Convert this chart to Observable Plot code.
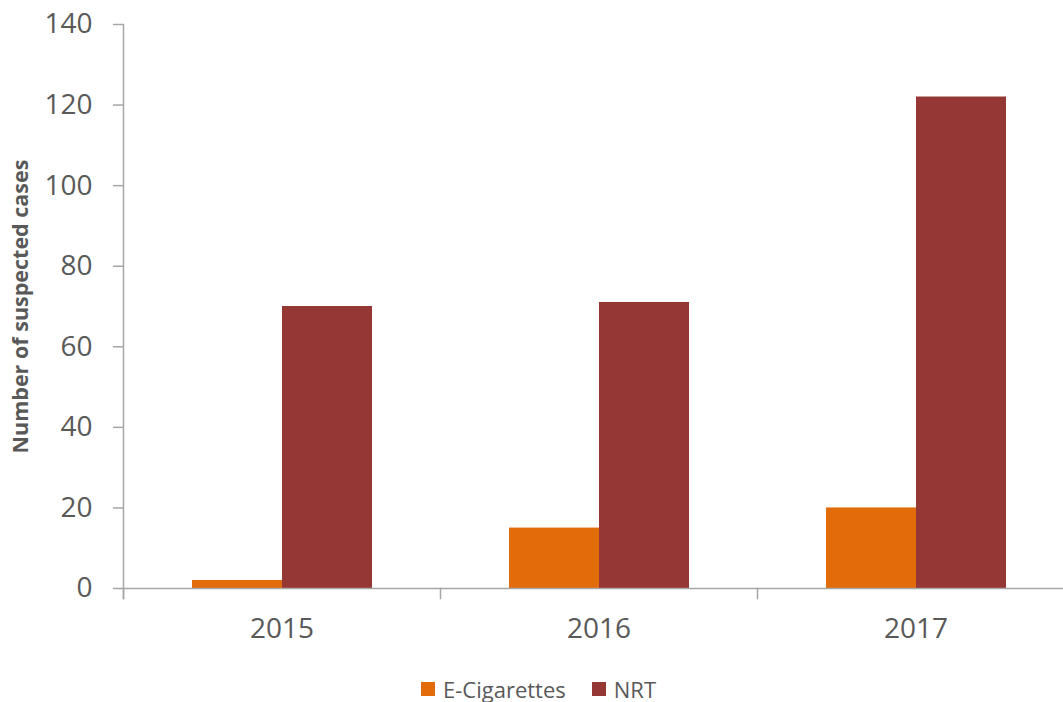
<!DOCTYPE html>
<html>
<head>
<meta charset="utf-8">
<script src="https://cdn.jsdelivr.net/npm/d3@7"></script>
<script src="https://cdn.jsdelivr.net/npm/@observablehq/plot@0.6"></script>
<style>
  html, body { margin: 0; padding: 0; background: #fff; overflow: hidden; }
  #wrap { position: relative; width: 1063px; height: 702px; font-family: "Open Sans", sans-serif; }
  #legend { position: absolute; left: 421px; top: 674px; display: flex; align-items: center; font-size: 22px; color: #595959; }
  .item { display: flex; align-items: center; margin-right: 26px; }
  .sw { width: 14px; height: 14px; margin-right: 8px; }
</style>
</head>
<body>
<div id="wrap"><div id="chart"></div><div id="legend"></div></div>
<script>
const years = ["2015", "2016", "2017"];
const seriesNames = ["E-Cigarettes", "NRT"];
const eCigValues = [2, 15, 20];
const nrtValues = [70, 71, 122];
const seriesColors = ["#E36C0A", "#953735"];
const yTicks = [0, 20, 40, 60, 80, 100, 120, 140];

const data = [];
years.forEach((yr, i) => {
  data.push({year: yr, series: seriesNames[0], value: eCigValues[i]});
  data.push({year: yr, series: seriesNames[1], value: nrtValues[i]});
});

const axisColor = "#a6a6a6";
const textColor = "#595959";

const chart = Plot.plot({
  width: 1063,
  height: 660,
  marginLeft: 123,
  marginRight: -11,
  marginTop: 24,
  marginBottom: 72,
  style: {fontFamily: "'Open Sans', sans-serif", background: "white", overflow: "hidden"},
  fx: {domain: years, padding: 0, label: null},
  x: {domain: seriesNames, paddingInner: 0, paddingOuter: 0.742, axis: null},
  y: {domain: [0, 140], label: null},
  color: {domain: seriesNames, range: seriesColors},
  marks: [
    Plot.barY(data, {fx: "year", x: "series", y: "value", fill: "series"}),
    Plot.ruleY([0], {stroke: axisColor, strokeWidth: 1.5}),
    Plot.frame({anchor: "left", stroke: axisColor, strokeWidth: 1.5, insetTop: 564, insetBottom: -10}),
    Plot.frame({anchor: "left", stroke: axisColor, strokeWidth: 1.5, facetAnchor: "left", insetBottom: -10}),
    Plot.axisY({ticks: yTicks, tickSize: 10, tickPadding: 21, fontSize: 28, fill: textColor, stroke: axisColor, strokeWidth: 1.5, strokeOpacity: 1, label: null}),
    Plot.axisFx({anchor: "bottom", tickSize: 0, tickPadding: 30, fontSize: 28, fill: textColor, label: null}),
    Plot.text(["Number of suspected cases"], {
      fx: () => years[0],
      frameAnchor: "left", textAnchor: "middle", dx: -102, rotate: -90, fontSize: 21.5, fontWeight: "bold", fill: textColor
    })
  ]
});
document.getElementById("chart").appendChild(chart);

const legend = document.getElementById("legend");
seriesNames.forEach((s, i) => {
  const item = document.createElement("div");
  item.className = "item";
  const sw = document.createElement("div");
  sw.className = "sw";
  sw.style.background = seriesColors[i];
  const t = document.createElement("span");
  t.textContent = s;
  item.appendChild(sw);
  item.appendChild(t);
  legend.appendChild(item);
});
</script>
</body>
</html>
